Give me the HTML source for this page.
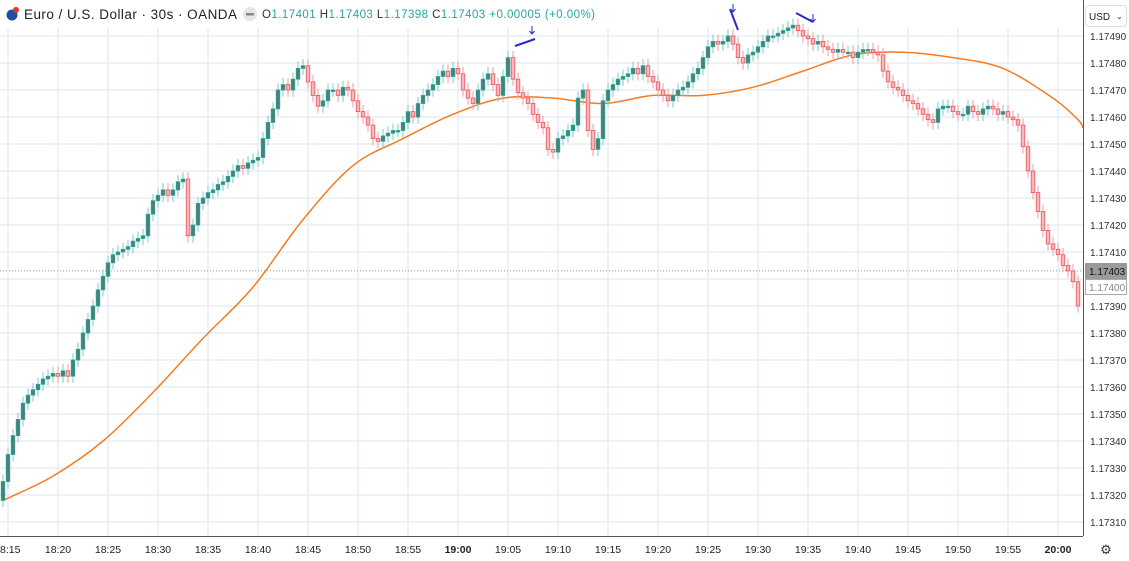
<!DOCTYPE html>
<html><head><meta charset="utf-8"><style>
body{margin:0;background:#fff;width:1129px;height:561px;overflow:hidden;font-family:"Liberation Sans",sans-serif}
svg{position:absolute;left:0;top:0}
</style></head><body>
<svg id="c" width="1129" height="561"></svg>
<script>
const closes=[325,335,342,348,354,357,359,361,363,364,
365,364,366,364,370,374,380,385,390,396,
401,406,409,410,411,412,414,415,416,424,
429,431,433,431,433,436,437,416,420,428,
430,432,433,435,436,438,440,442,441,443,
444,445,452,458,463,470,472,470,474,478,
479,473,468,464,466,470,470,468,471,470,
466,462,460,457,452,451,453,454,455,455,
458,462,460,465,468,470,472,475,477,475,
478,476,470,467,465,470,474,476,472,468,
475,482,474,469,467,465,461,458,456,448,
447,452,453,455,457,467,470,455,448,452,
466,470,472,474,475,476,478,476,479,475,
473,470,468,466,468,470,471,473,476,478,
482,486,488,487,488,490,487,482,480,483,
484,486,488,490,490,491,492,493,494,492,
490,489,487,488,486,485,484,485,484,484,
482,484,485,485,484,483,477,473,471,470,
468,466,465,463,461,459,458,463,464,464,
462,461,461,464,462,461,463,464,463,461,
462,460,459,457,449,440,432,425,418,413,
411,409,405,403,399,390];
const firstOpen=318;
const maVals=[318,327,340,358,378,397,422,442,452,461,467,467,465,468,468,471,477,483,484,482,478,467,459];
const priceTicks=[490,480,470,460,450,440,430,420,410,400,390,380,370,360,350,340,330,320,310];
const timeLabels=["8:15","18:20","18:25","18:30","18:35","18:40","18:45","18:50","18:55","19:00","19:05","19:10","19:15","19:20","19:25","19:30","19:35","19:40","19:45","19:50","19:55","20:00"];
const lastPrice=403;

const NS="http://www.w3.org/2000/svg";
const svg=document.getElementById('c');
function y(v){return 279-(v-400)*2.7;}
function xi(i){return 3+5*i;}
function el(t,a,p){const e=document.createElementNS(NS,t);for(const k in a)e.setAttribute(k,a[k]);(p||svg).appendChild(e);return e;}
const PW=1083;
const grid=el('g',{});


priceTicks.forEach(v=>{el('line',{x1:0,x2:PW,y1:y(v),y2:y(v),stroke:'#e3eaf1','stroke-width':1.2},grid);});
timeLabels.forEach((t,k)=>{const x=8+50*k;el('line',{x1:x,x2:x,y1:28,y2:536,stroke:'#e3eaf1','stroke-width':1.2},grid);});
const lp=el('line',{x1:0,x2:PW,y1:y(lastPrice),y2:y(lastPrice),stroke:'#999','stroke-width':1,'stroke-dasharray':'1,2'});


// MA smooth (catmull-rom)
const pts=maVals.map((v,k)=>[xi(Math.min(k*10,215)),y(v)]);
pts.push([PW,y(maVals[maVals.length-1]-3)]);
let d='M'+pts[0][0]+','+pts[0][1];
for(let k=0;k<pts.length-1;k++){const p0=pts[Math.max(0,k-1)],p1=pts[k],p2=pts[k+1],p3=pts[Math.min(pts.length-1,k+2)];
 d+=`C${p1[0]+(p2[0]-p0[0])/6},${p1[1]+(p2[1]-p0[1])/6} ${p2[0]-(p3[0]-p1[0])/6},${p2[1]-(p3[1]-p1[1])/6} ${p2[0]},${p2[1]}`;}
const ma=el('path',{d:d,fill:'none',stroke:'#f57c20','stroke-width':1.5});


const cg=el('g',{});


closes.forEach((c,i)=>{
  const o=i?closes[i-1]:firstOpen;const up=c>=o;const x=xi(i);
  const hi=Math.max(o,c)+2.5,lo=Math.min(o,c)-2.5;
  const g=el('g',{},cg);
  
  
  el('line',{x1:x,x2:x,y1:y(hi),y2:y(lo),stroke:up?'#7fcbc2':'#f29aa6','stroke-width':1},g);
  const t=y(Math.max(o,c)),b=y(Math.min(o,c));
  el('rect',{x:x-1.8,y:t,width:3.6,height:Math.max(1.5,b-t),fill:up?'#4c7f7a':'#f6b8c2',stroke:up?'#26a69a':'#ef5350','stroke-width':0.8},g);
});
const an=el('g',{stroke:'#2a2acd','stroke-width':2,fill:'none'});


el('line',{x1:515,y1:46,x2:535,y2:39},an);
el('line',{x1:730,y1:9,x2:738,y2:30},an);
el('line',{x1:796,y1:13,x2:813,y2:22},an);
[[532,26],[733,4],[813,14]].forEach(p=>{el('path',{d:`M${p[0]},${p[1]}v8m-2.5,-3l2.5,3l2.5,-3`,'stroke-width':1},an);});
const ax=el('g',{});


el('rect',{x:PW,y:0,width:46,height:561,fill:'#fff'},ax);
el('line',{x1:PW+0.5,x2:PW+0.5,y1:0,y2:536,stroke:'#555','stroke-width':1},ax);
priceTicks.forEach(v=>{if(v===400)return;const t=el('text',{x:1090,y:y(v)+4,'font-size':10,fill:'#333'},ax);t.textContent='1.17'+v;});
const lb=el('rect',{x:1085,y:263,width:42,height:16,fill:'#9a9a9a'},ax);


const lt=el('text',{x:1089,y:275,'font-size':10,fill:'#111'},ax);lt.textContent='1.17'+lastPrice;
el('rect',{x:1085.5,y:279.5,width:41,height:15,fill:'#fff',stroke:'#aaa'},ax);
const lt2=el('text',{x:1089,y:291,'font-size':10,fill:'#888'},ax);lt2.textContent='1.17400';
const ub=el('rect',{x:1085.5,y:5.5,width:41,height:21,rx:3,fill:'#fff',stroke:'#ddd'});


const ut=el('text',{x:1089,y:20,'font-size':10,fill:'#222'});ut.textContent='USD';
const uc=el('text',{x:1116,y:19,'font-size':8,fill:'#222'});uc.textContent='⌄';
const tx=el('g',{});


el('line',{x1:0,x2:PW,y1:536.5,y2:536.5,stroke:'#555'},tx);
timeLabels.forEach((t,k)=>{const x=8+50*k;const e=el('text',{x:k?x:0,y:553,'font-size':10.5,fill:'#222','text-anchor':k?'middle':'start','font-weight':(t==='19:00'||t==='20:00')?'bold':'normal'},tx);e.textContent=t;});
const gear=el('text',{x:1106,y:554,'font-size':13,fill:'#333','text-anchor':'middle'});gear.textContent='⚙';


const hd=el('g',{});


el('rect',{x:0,y:3,width:600,height:22,fill:'#fff','fill-opacity':0.85},hd);
el('circle',{cx:12,cy:15,r:5.5,fill:'#1f4fa0'},hd);
el('circle',{cx:16,cy:10,r:3,fill:'#d33'},hd);
const h1=el('text',{x:24,y:19,'font-size':13.5,fill:'#222',textLength:213,lengthAdjust:'spacing'},hd);h1.textContent='Euro / U.S. Dollar · 30s · OANDA';
el('circle',{cx:250,cy:14,r:7,fill:'#e6e6e6'},hd);
el('rect',{x:246,y:13,width:8,height:2.5,fill:'#888'},hd);
const ohlc=el('text',{x:262,y:18,'font-size':11.5,fill:'#26a69a',textLength:333,lengthAdjust:'spacing'},hd);
ohlc.innerHTML='<tspan fill="#333">O</tspan>1.17401  <tspan fill="#333">H</tspan>1.17403  <tspan fill="#333">L</tspan>1.17398  <tspan fill="#333">C</tspan>1.17403  +0.00005 (+0.00%)';
</script>
</body></html>
